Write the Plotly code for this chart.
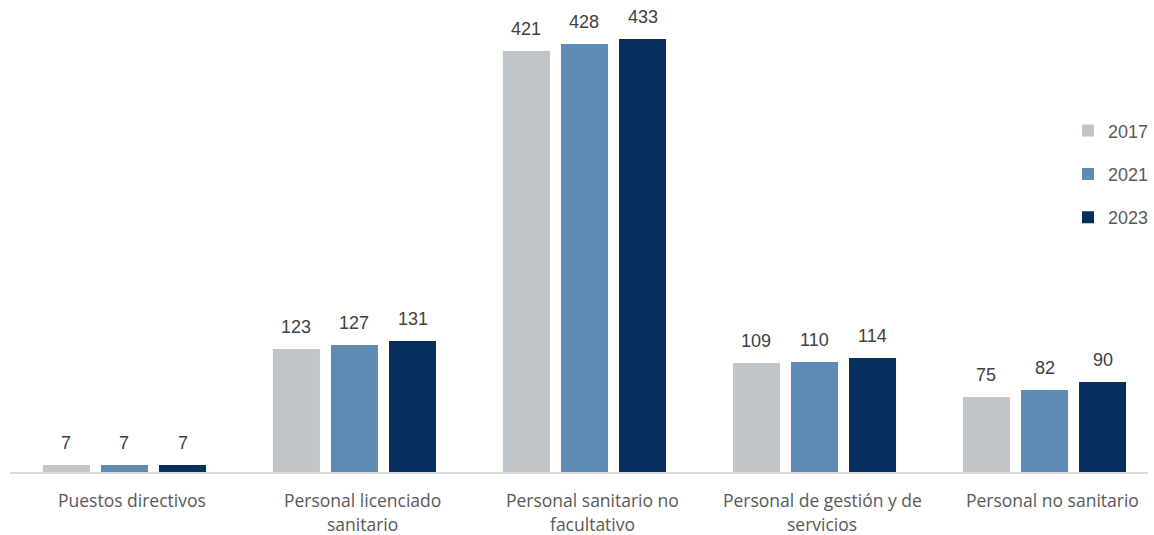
import plotly.graph_objects as go

categories = ["Puestos directivos", "Personal licenciado<br>sanitario",
              "Personal sanitario no<br>facultativo", "Personal de gestión y de<br>servicios",
              "Personal no sanitario"]
years = ["2017", "2021", "2023"]
v2017 = [7, 123, 421, 109, 75]
v2021 = [7, 127, 428, 110, 82]
v2023 = [7, 131, 433, 114, 90]
colors = ["#C0C5C9", "#5F8AB4", "#062E5E"]

BARGAP = 0.243
CAT_PX = 230.1
SLOT_PX = CAT_PX * (1 - BARGAP) / 3

fig = go.Figure()
series = [v2017, v2021, v2023]
for i, (yr, vals) in enumerate(zip(years, series)):
    fig.add_trace(go.Bar(
        x=categories, y=vals, name=yr, marker_color=colors[i],
        marker_line_width=0, legendgroup=yr,
    ))
    for c, v in zip(categories, vals):
        fig.add_annotation(
            x=c, y=v, xref="x", yref="y", text=str(v), showarrow=False,
            xshift=(i - 1) * SLOT_PX, yshift=10, yanchor="bottom",
            font=dict(family="'Liberation Sans', Arial, sans-serif", size=18, color="#404040"),
        )

for c in categories:
    for k, line in enumerate(c.split("<br>")):
        fig.add_annotation(
            x=c, y=0, xref="x", yref="y", text=line, showarrow=False,
            yanchor="middle", yshift=-28 - 24 * k, xshift=8, borderpad=0,
            font=dict(family="'Open Sans', sans-serif", size=17.5, color="#595959"),
        )

fig.update_layout(
    width=1154, height=535,
    margin=dict(l=10, r=0, t=0, b=63),
    paper_bgcolor="white", plot_bgcolor="white",
    barmode="group", bargap=BARGAP, bargroupgap=0.19,
    showlegend=True,
    legend=dict(x=0.93, y=0.762, xanchor="left", yanchor="top", itemwidth=30,
                font=dict(family="'Liberation Sans', Arial, sans-serif", size=18, color="#595959"),
                tracegroupgap=17, bgcolor="rgba(0,0,0,0)"),
    xaxis=dict(showline=True, linecolor="#D9D9D9", linewidth=1.5, ticks="",
               showticklabels=False, showgrid=False,
               range=[-0.4976, 4.450]),
    yaxis=dict(visible=False, range=[0, 472], showgrid=False, zeroline=False),
)

fig.write_html("out.html")
